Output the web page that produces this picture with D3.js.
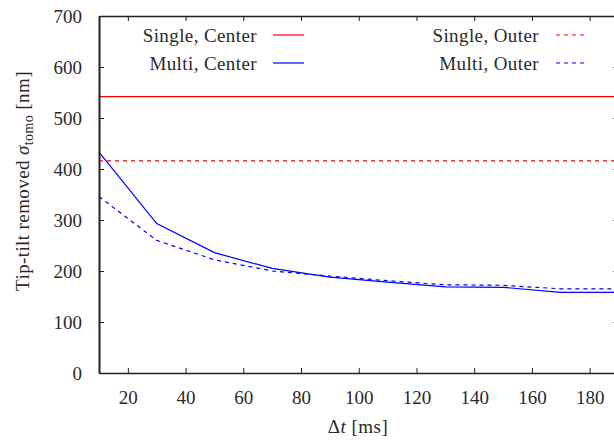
<!DOCTYPE html>
<style>
    body { margin: 0; background: #fff; }
    svg text { font-family: 'Liberation Serif', serif; fill: #2a2a2a; }
    .axis text { font-size: 19px; }
</style>
<body>
<svg width="614" height="446" id="chart"></svg>
<script src="https://d3js.org/d3.v7.min.js"></script>
<script>

    // delay in ms
    var dt = [10, 30, 50, 70, 90, 110, 130, 150, 170, 190];
    var singleCenter = [542, 542, 542, 542, 542, 542, 542, 542, 542, 542];
    var singleOuter  = [416, 416, 416, 416, 416, 416, 416, 416, 416, 416];
    var multiCenter  = [433, 293, 236, 205, 188, 178, 169, 168, 158, 158];
    var multiOuter   = [346, 260, 222, 200, 190, 181, 173, 172, 165, 165];

    var xTicks = [20, 40, 60, 80, 100, 120, 140, 160, 180];
    var yTicks = [0, 100, 200, 300, 400, 500, 600, 700];

    var series = [
        {name: "Single, Center", values: singleCenter, color: "#ff0000", dash: null, w: 1.4},
        {name: "Single, Outer",  values: singleOuter,  color: "#ff0000", dash: "4,4", w: 1.2},
        {name: "Multi, Center",  values: multiCenter,  color: "#0000ff", dash: null, w: 1.2},
        {name: "Multi, Outer",   values: multiOuter,   color: "#0000ff", dash: "4,4", w: 1.2}
    ];

    var svg = d3.select("svg"),
        margin = {top: 16, right: -4.5, bottom: 73, left: 99},
        width = 614 - margin.left - margin.right,
        height = 446 - margin.top - margin.bottom,
        g = svg.append("g").attr("transform", "translate(" + margin.left + "," + margin.top + ")");

    var x = d3.scaleLinear().domain([10, 190]).range([0, width]);
    var y = d3.scaleLinear().domain([0, 700]).range([height, 0]);

    var line = d3.line()
        .x(function(d, i) { return x(dt[i]); })
        .y(function(d) { return y(d); });

    g.selectAll(".series")
        .data(series)
        .enter().append("path")
        .attr("class", "series")
        .attr("fill", "none")
        .attr("stroke", function(d) { return d.color; })
        .attr("stroke-width", function(d) { return d.w; })
        .attr("stroke-dasharray", function(d) { return d.dash; })
        .attr("d", function(d) { return line(d.values); });

    // axes, ticks pointing inward (gnuplot style)
    var bottom = g.append("g").attr("class", "axis")
        .attr("transform", "translate(0," + height + ")")
        .call(d3.axisBottom(x).tickValues(xTicks).tickSizeInner(-5).tickSizeOuter(0).tickPadding(18));
    var left = g.append("g").attr("class", "axis")
        .call(d3.axisLeft(y).tickValues(yTicks).tickSizeInner(-5).tickSizeOuter(0).tickPadding(17));
    var top = g.append("g").attr("class", "axis")
        .call(d3.axisTop(x).tickValues(xTicks).tickSizeInner(-5).tickSizeOuter(0).tickFormat(""));
    var right = g.append("g").attr("class", "axis")
        .attr("transform", "translate(" + width + ",0)")
        .call(d3.axisRight(y).tickValues(yTicks).tickSizeInner(-5).tickSizeOuter(0).tickFormat(""));

    g.selectAll(".axis path").attr("stroke", "#222").attr("stroke-width", 1.3);
    left.select("path").attr("stroke-width", 2);
    bottom.select("path").attr("stroke-width", 1.6);
    g.selectAll(".axis line").attr("stroke", "#222");
    g.selectAll(".axis text").attr("fill", "#2a2a2a");

    // legend
    var legPos = [[257, 273, 35], [539, 556, 35], [257, 273, 63], [539, 556, 63]];
    var legend = g.append("g")
        .selectAll("g")
        .data(series)
        .enter().append("g")
        .attr("transform", function(d, i) { return "translate(" + (-margin.left) + "," + (legPos[i][2] - margin.top) + ")"; });

    legend.append("text")
        .attr("x", function(d, i) { return legPos[i][0]; })
        .attr("dy", "0.35em")
        .attr("text-anchor", "end")
        .attr("font-size", "19px")
        .attr("letter-spacing", "0.4px")
        .text(function(d) { return d.name; });

    legend.append("line")
        .attr("x1", function(d, i) { return legPos[i][1]; })
        .attr("x2", function(d, i) { return legPos[i][1] + 31; })
        .attr("stroke", function(d) { return d.color; })
        .attr("stroke-width", 1.2)
        .attr("stroke-dasharray", function(d) { return d.dash; });

    // axis labels
    var xl = svg.append("text")
        .attr("x", 358)
        .attr("y", 433)
        .attr("text-anchor", "middle")
        .attr("font-size", "19px")
        .attr("letter-spacing", "0.5px");
    xl.append("tspan").text("\u0394");
    xl.append("tspan").attr("font-style", "italic").text("t");
    xl.append("tspan").text(" [ms]");

    var yl = svg.append("text")
        .attr("transform", "translate(29,181) rotate(-90)")
        .attr("text-anchor", "middle")
        .attr("font-size", "19px")
        .attr("letter-spacing", "0.4px");
    yl.append("tspan").text("Tip-tilt removed ");
    yl.append("tspan").attr("font-style", "italic").text("\u03c3");
    yl.append("tspan").attr("font-size", "14px").attr("dy", 4).text("tomo");
    yl.append("tspan").attr("dy", -4).text(" [nm]");

</script>
</body>
